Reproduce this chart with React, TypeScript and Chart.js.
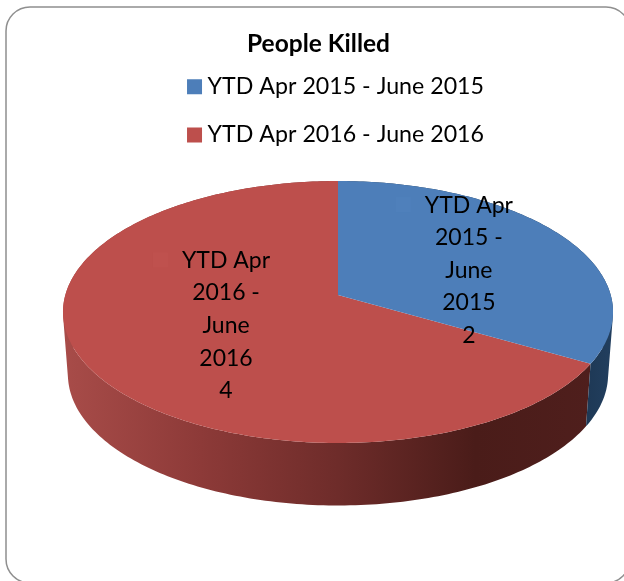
import { useEffect, useRef } from "react";
import { Chart, registerables } from "chart.js";

Chart.register(...registerables);

const title = "People Killed";
const categories = ["YTD Apr 2015 - June 2015", "YTD Apr 2016 - June 2016"];
const values = [2, 4];
const sliceColors = ["#4d7eb9", "#bd4f4c"];
const keyColors = ["#4f80bb", "#bf514e"];
const labelLines = [
  ["YTD Apr", "2015 -", "June", "2015"],
  ["YTD Apr", "2016 -", "June", "2016"],
];

const FONT = "Lato, Carlito, sans-serif";

// Perspective view of the unit disc (the pie's top face).
const CX = 338;
const APEX_Y = 295;
const K = -0.1298;
const A = 90.5;
const D = 272.7;
const DEPTH = 62.5;
const BASE_SCALE = 0.982;

const project = (r: number, angle: number) => {
  const theta = angle + Math.PI / 2;
  const u = r * Math.sin(theta);
  const v = -r * Math.cos(theta);
  const w = 1 + K * v;
  return { x: CX + (D * u) / w, y: (A * v + APEX_Y) / w };
};
const dropped = (p: { x: number; y: number }) => ({
  x: CX + (p.x - CX) * BASE_SCALE,
  y: p.y + DEPTH,
});

const rim = (start: number, end: number) => {
  const n = Math.max(8, Math.ceil(((end - start) * 180) / Math.PI));
  const pts = [];
  for (let i = 0; i <= n; i++) pts.push(project(1, start + ((end - start) * i) / n));
  return pts;
};

const perspectivePie = {
  id: "perspectivePie",
  beforeDraw(chart: any) {
    const { ctx } = chart;
    ctx.save();
    ctx.fillStyle = "#ffffff";
    ctx.fillRect(0, 0, chart.width, chart.height);
    ctx.beginPath();
    ctx.roundRect(6, 7, 624, 576, 24);
    ctx.strokeStyle = "#8f8f8f";
    ctx.lineWidth = 1.5;
    ctx.stroke();
    ctx.restore();
  },
  afterLayout(chart: any) {
    chart.legend.left += 41.5;
    chart.legend.right += 41.5;
    chart.legend.top -= 8.6;
    chart.legend.bottom -= 8.6;
    chart.titleBlock.left += 21.5;
    chart.titleBlock.right += 21.5;
  },
  beforeDatasetsDraw(chart: any) {
    const { ctx } = chart;
    const arcs = chart.getDatasetMeta(0).data;
    ctx.save();

    const redWall = ctx.createLinearGradient(63, 0, 613, 0);
    redWall.addColorStop(0, "#a84c49");
    redWall.addColorStop(0.25, "#8d3a38");
    redWall.addColorStop(0.5, "#6e2c2a");
    redWall.addColorStop(0.75, "#4a1c19");
    redWall.addColorStop(1, "#501f1d");
    const blueWall = ctx.createLinearGradient(580, 0, 613, 0);
    blueWall.addColorStop(0, "#1d3753");
    blueWall.addColorStop(1, "#223f5f");
    const walls = [blueWall, redWall];

    // The side wall is swept from the rim down to the base as one path.
    [1, 0].forEach((i) => {
      const pts = rim(arcs[i].startAngle, arcs[i].endAngle);
      ctx.beginPath();
      for (let j = 0; j < pts.length - 1; j++) {
        const a = pts[j];
        const b = pts[j + 1];
        const c = dropped(b);
        const d = dropped(a);
        const area =
          (b.x - a.x) * (c.y - a.y) - (b.y - a.y) * (c.x - a.x) +
          (c.x - a.x) * (d.y - a.y) - (c.y - a.y) * (d.x - a.x);
        const quad = area >= 0 ? [a, b, c, d] : [d, c, b, a];
        quad.forEach((p, k) => (k ? ctx.lineTo(p.x, p.y) : ctx.moveTo(p.x, p.y)));
        ctx.closePath();
      }
      ctx.fillStyle = walls[i];
      ctx.fill("nonzero");
    });

    [1, 0].forEach((i) => {
      const pts = rim(arcs[i].startAngle, arcs[i].endAngle);
      const apex = project(0, 0);
      ctx.beginPath();
      ctx.moveTo(apex.x, apex.y);
      pts.forEach((p) => ctx.lineTo(p.x, p.y));
      ctx.closePath();
      ctx.fillStyle = sliceColors[i];
      ctx.fill();
    });

    // Data labels, anchored on each slice's middle angle.
    const anchors = [
      { r: 0.575, dy: 11 },
      { r: 0.46, dy: 0 },
    ];
    const lineH = 32.6;
    ctx.font = `23px ${FONT}`;
    ctx.textAlign = "center";
    ctx.textBaseline = "middle";
    arcs.forEach((arc: any, i: number) => {
      const mid = (arc.startAngle + arc.endAngle) / 2;
      const c = project(anchors[i].r, mid);
      const lines = [...labelLines[i], String(values[i])];
      const top = c.y + anchors[i].dy - (lineH * (lines.length - 1)) / 2;
      const w = ctx.measureText(lines[0]).width;
      ctx.fillStyle = keyColors[i];
      ctx.fillRect(c.x - w / 2 - 29, top - 8, 15, 15);
      ctx.fillStyle = "#000000";
      lines.forEach((t, k) => ctx.fillText(t, c.x, top + k * lineH));
    });

    ctx.restore();
    return false;
  },
};

export default function App() {
  const ref = useRef<HTMLCanvasElement>(null);
  useEffect(() => {
    const chart = new Chart(ref.current!, {
      type: "pie",
      data: {
        labels: categories,
        datasets: [{ data: values, backgroundColor: sliceColors, borderWidth: 0 }],
      },
      options: {
        animation: false,
        responsive: false,
        layout: { padding: { top: 16, right: 30 } },
        plugins: {
          title: {
            display: true,
            text: title,
            color: "#000000",
            font: { family: FONT, size: 24.5, weight: "bold" },
            padding: { top: 13.3, bottom: 0 },
          },
          legend: {
            display: true,
            position: "top",
            labels: {
              usePointStyle: true,
              pointStyle: "rect",
              boxWidth: 3,
              boxHeight: 15,
              padding: 25,
              color: "#000000",
              font: { family: FONT, size: 23.2 },
            },
          },
          tooltip: { enabled: false },
        },
      },
      plugins: [perspectivePie],
    } as any);
    return () => chart.destroy();
  }, []);
  return (
    <canvas
      ref={ref}
      width={624}
      height={581}
      style={{ position: "fixed", left: 0, top: 0, display: "block", width: 624, height: 581 }}
    />
  );
}
